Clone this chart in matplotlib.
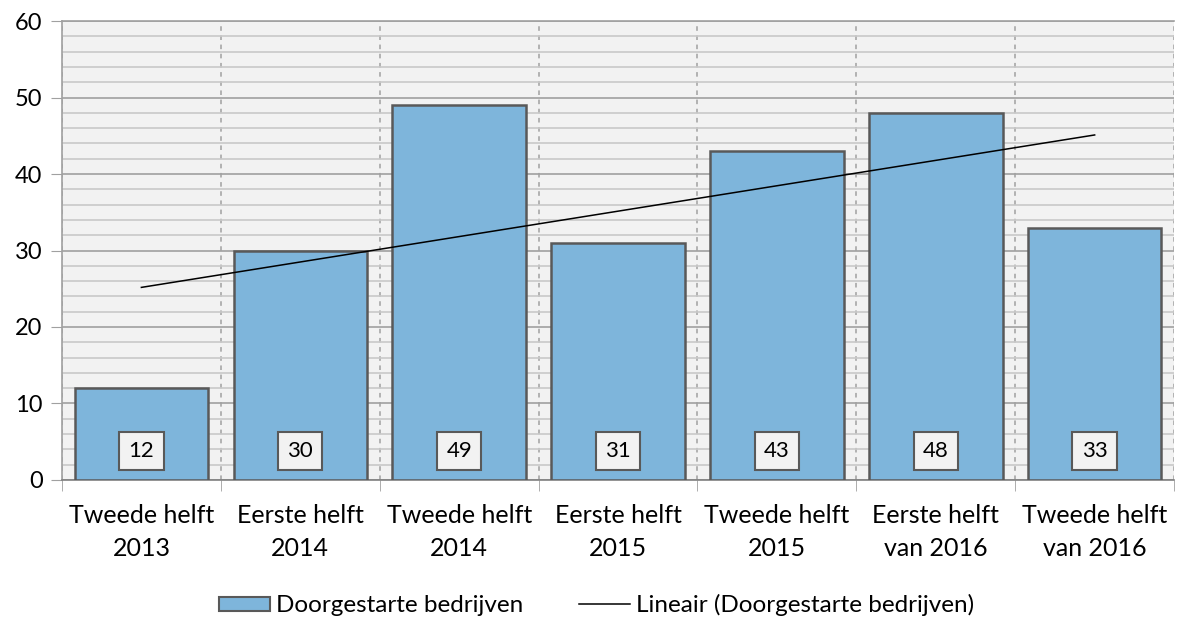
import numpy as np
import matplotlib
matplotlib.use('Agg')
from matplotlib import pyplot as plt
from matplotlib.ticker import MultipleLocator
from matplotlib.lines import Line2D
from matplotlib.patches import Patch

plt.rcParams['font.family'] = ['Lato', 'DejaVu Sans']

# data
categories = ['Tweede helft\n2013', 'Eerste helft\n2014', 'Tweede helft\n2014',
              'Eerste helft\n2015', 'Tweede helft\n2015', 'Eerste helft\nvan 2016',
              'Tweede helft\nvan 2016']
values = [12, 30, 49, 31, 43, 48, 33]
series_name = 'Doorgestarte bedrijven'
trend_name = 'Lineair (Doorgestarte bedrijven)'

x = np.arange(len(categories))
# linear trendline, like the spreadsheet one
slope, icpt = np.polyfit(x, values, 1)
trend = slope * x + icpt

fig = plt.figure(figsize=(11.8, 6.19), dpi=100)
ax = fig.add_axes([0.0525, 0.2246, 0.9425, 0.7414])
ax.set_facecolor('#F2F2F2')

ax.bar(x, values, width=0.84, color='#7EB5DB', edgecolor='#595959',
       linewidth=1.8, zorder=3)
ax.plot(x, trend, color='black', linewidth=1.1, zorder=4)

# value boxes at the bottom of each bar
for xi, v in zip(x, values):
    ax.text(xi, 3.8, str(v), ha='center', va='center', fontsize=16, zorder=5,
            bbox=dict(boxstyle='square,pad=0.42', facecolor='#F2F2F2',
                      edgecolor='#595959', linewidth=1.5))

ax.set_xlim(-0.5, len(categories) - 0.5)
ax.set_ylim(0, 60)

ax.yaxis.set_major_locator(MultipleLocator(10))
ax.yaxis.set_minor_locator(MultipleLocator(2))
ax.grid(axis='y', which='minor', color='#C8C8C8', linewidth=1.2, zorder=0)
ax.grid(axis='y', which='major', color='#A0A0A0', linewidth=1.2, zorder=0)
ax.tick_params(axis='y', which='minor', length=0)
ax.tick_params(axis='y', which='major', length=8, color='#A0A0A0',
               labelsize=17, pad=6)

# category labels at centers, ticks/grid at boundaries
ax.set_xticks(x)
ax.set_xticklabels(categories, fontsize=18, linespacing=1.55)
ax.tick_params(axis='x', which='major', length=0, pad=17)
ax.set_xticks(np.arange(len(categories) + 1) - 0.5, minor=True)
ax.tick_params(axis='x', which='minor', length=8, color='#A0A0A0')
ax.grid(axis='x', which='minor', color='#A0A0A0', linestyle=(0, (3, 3)),
        linewidth=1.1, zorder=0)

for s in ['left', 'top']:
    ax.spines[s].set_color('#A0A0A0')
    ax.spines[s].set_linewidth(1.2)
ax.spines['right'].set_visible(False)
ax.spines['bottom'].set_color('#808080')
ax.spines['bottom'].set_linewidth(1.2)

handles = [Patch(facecolor='#7EB5DB', edgecolor='#595959', linewidth=1.5),
           Line2D([0], [0], color='black', linewidth=1.1)]
fig.legend(handles, [series_name, trend_name], loc='center left',
           bbox_to_anchor=(0.167, 0.022), ncol=2, frameon=False, fontsize=17.5,
           handlelength=2.1, handleheight=0.55, handletextpad=0.25,
           columnspacing=2.3)

fig.savefig('out.png', dpi=100)
